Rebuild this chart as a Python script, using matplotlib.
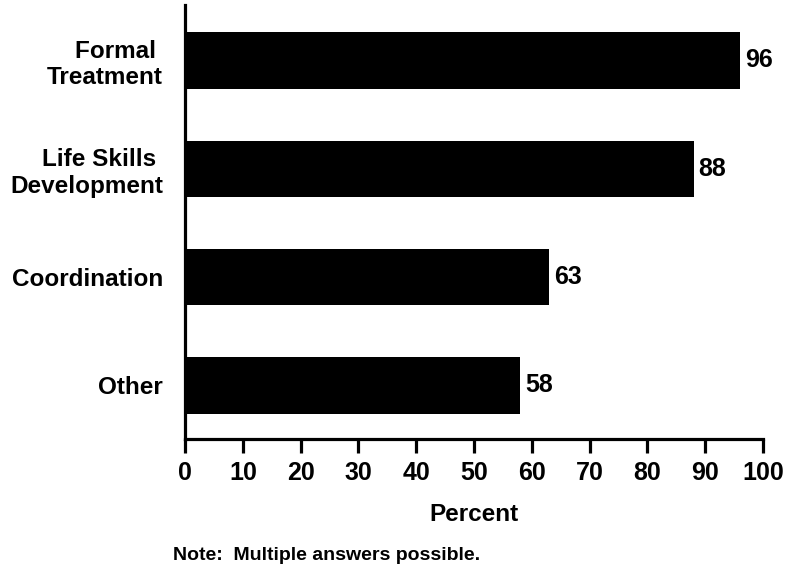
import numpy as np
import matplotlib
matplotlib.use("Agg")
import matplotlib.pyplot as plt

plt.rcParams['font.family'] = ['Liberation Sans', 'DejaVu Sans']
plt.rcParams['font.weight'] = 'bold'

# data
categories = ["Formal \nTreatment", "Life Skills \nDevelopment", "Coordination", "Other"]
percent = [96, 88, 63, 58]
xticks = [0, 10, 20, 30, 40, 50, 60, 70, 80, 90, 100]

fig = plt.figure(figsize=(7.85, 5.67), dpi=100)
ax = fig.add_axes([0.2357, 0.2266, 0.9720 - 0.2357, 0.991 - 0.2266])

y = np.arange(len(categories))
ax.barh(y, percent, height=0.52, color='black')

# value labels next to the bar ends
for yi, v in zip(y, percent):
    ax.annotate(f"{v}", xy=(v, yi), xytext=(3.5, 0), textcoords='offset points',
                va='center', ha='left', fontsize=18, fontweight='bold')

ax.set_xlim(0, 100)
ax.set_ylim(3.49, -0.51)
ax.set_xticks(xticks)
ax.set_xticklabels([str(t) for t in xticks], fontsize=18, fontweight='bold')
ax.set_yticks(y)
ax.set_yticklabels(categories, fontsize=17.5, fontweight='bold')

ax.spines['top'].set_visible(False)
ax.spines['right'].set_visible(False)
ax.spines['left'].set_linewidth(2.3)
ax.spines['bottom'].set_linewidth(2.3)
ax.tick_params(axis='x', direction='out', length=10, width=2.3, pad=6)
ax.tick_params(axis='y', length=0, pad=16)

ax.set_xlabel("Percent", fontsize=17.5, fontweight='bold', labelpad=13)

fig.text(0.220, 0.0123, "Note:  Multiple answers possible.", fontsize=14,
         fontweight='bold', ha='left', va='baseline')

fig.savefig("out.png", dpi=100)
